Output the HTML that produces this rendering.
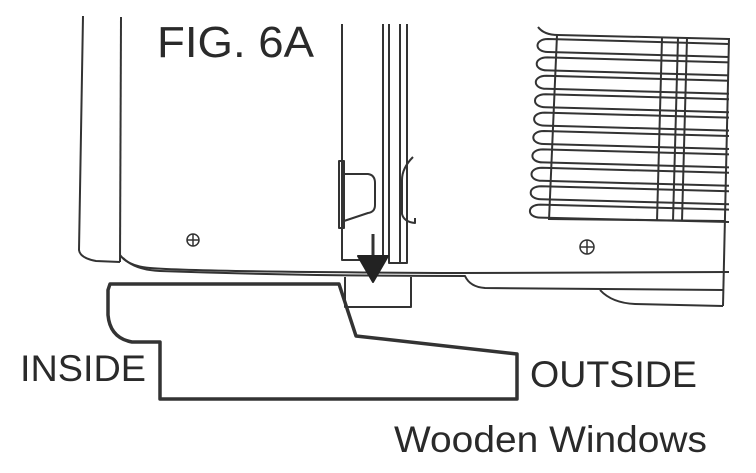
<!DOCTYPE html>
<html><head><meta charset="utf-8"><style>
html,body{margin:0;padding:0;background:#fff;}
svg{display:block}
text{font-family:"Liberation Sans",Arial,sans-serif;fill:#2a2a2a}
</style></head><body>
<svg width="756" height="473" viewBox="0 0 756 473" xmlns="http://www.w3.org/2000/svg">
<g fill="none" stroke="#333" stroke-width="2" stroke-linejoin="round">
<path d="M83 16 L79 250 Q80 258 96 261 L120 262"/>
<path d="M121 17 L120 262"/>
<path d="M120 255 Q128 266 150 268 Q200 272 460 273 L729 272"/>
<path d="M123 258 Q135 270 160 271 Q300 276 465 276 Q470 287 485 288 L723 290"/>
<path d="M600 290 Q612 303 635 304 L723 306"/>
<path d="M729 38 L723 306"/>
<circle cx="193" cy="240" r="6" stroke-width="1.5"/><path d="M187 240h12M193 234v12" stroke-width="1.5"/>
<circle cx="587" cy="247" r="7" stroke-width="1.5"/><path d="M580 247h14M587 240v14" stroke-width="1.5"/>
<path d="M342 24 L342 260 L382 260"/>
<path d="M383 24 L383 263 M389 24 L389 263 L407 263 L407 24 M400 24 L400 263"/>
<rect x="339" y="161" width="5" height="67"/>
<path d="M344 174 L368 174 Q375 175 375 183 L375 205 Q375 212 368 213 L344 221"/>
<path d="M413 157 Q402 168 402 180 L402 214 Q404 222 415 223 L415 218"/>
<path d="M373 234 L373 258" stroke-width="3"/>
<polygon points="358,256 388,256 373,282" fill="#222" stroke="#222"/>
<path d="M345 277 L345 307 L411 307 L411 277"/>
<path d="M110 284 L339 284 L356 336 L517 354 L517 399 L160 399 L160 342 L132 342 Q110 338 108 315 L108 290 Z" stroke-width="3.5"/>
<path d="M538 27 Q544 35 558 35 L729 39"/>
<path d="M557 35 L549 220 M662 38 L657 221 M678 38 L673 221 M687 38 L682 221"/>
<path d="M549 219 L724 221"/>
<path d="M729 44 L548 39 C534 39 534 52 548 52 L729 57"/>
<path d="M729 62.4 L547.2 57.4 C533.2 57.4 533.2 70.4 547.2 70.4 L729 75.4"/>
<path d="M729 80.8 L546.3 75.8 C532.3 75.8 532.3 88.8 546.3 88.8 L729 93.8"/>
<path d="M729 99.2 L545.5 94.2 C531.5 94.2 531.5 107.2 545.5 107.2 L729 112.2"/>
<path d="M729 117.6 L544.6 112.6 C530.6 112.6 530.6 125.6 544.6 125.6 L729 130.6"/>
<path d="M729 136 L543.8 131 C529.8 131 529.8 144 543.8 144 L729 149"/>
<path d="M729 154.4 L542.9 149.4 C528.9 149.4 528.9 162.4 542.9 162.4 L729 167.4"/>
<path d="M729 172.8 L542 167.8 C528 167.8 528 180.8 542 180.8 L729 185.8"/>
<path d="M729 191.2 L541.2 186.2 C527.2 186.2 527.2 199.2 541.2 199.2 L729 204.2"/>
<path d="M729 209.6 L540.4 204.6 C526.4 204.6 526.4 217.6 540.4 217.6 L729 222"/>
</g>
<text x="157" y="57" font-size="44" textLength="157" lengthAdjust="spacingAndGlyphs">FIG. 6A</text>
<text x="20" y="381" font-size="37" textLength="126" lengthAdjust="spacingAndGlyphs">INSIDE</text>
<text x="530" y="387" font-size="37" textLength="167" lengthAdjust="spacingAndGlyphs">OUTSIDE</text>
<text x="394" y="452" font-size="37" textLength="313" lengthAdjust="spacingAndGlyphs">Wooden Windows</text>
</svg>
</body></html>
